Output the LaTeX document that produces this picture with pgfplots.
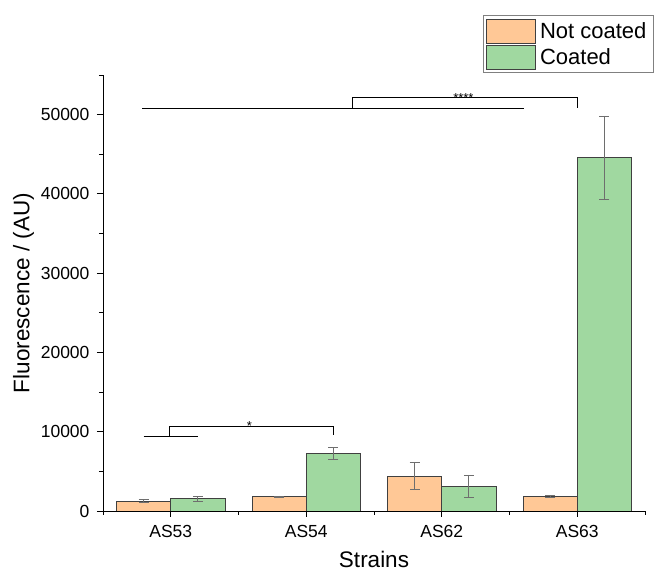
\documentclass[border=0pt]{standalone}
\usepackage{pgfplots}
\pgfplotsset{compat=1.18}
\usepackage{fontspec}
\setmainfont{Liberation Sans}
\definecolor{nc}{RGB}{255,200,150}
\definecolor{co}{RGB}{160,216,160}
\definecolor{eb}{RGB}{110,110,110}
\begin{document}
\begin{tikzpicture}
\begin{axis}[
  name=ax,
  scale only axis,
  width=542pt, height=436pt,
  xmin=-0.5, xmax=3.5,
  ymin=0, ymax=55000,
  axis x line*=bottom, axis y line*=left,
  axis line style={black, line width=0.9pt},
  ybar=0pt, bar width=0.4,
  xtick={0,1,2,3},
  xticklabels={AS53,AS54,AS62,AS63},
  minor xtick={-0.5,0.5,1.5,2.5,3.5},
  ytick={0,10000,20000,30000,40000,50000},
  minor ytick={5000,15000,25000,35000,45000,55000},
  scaled y ticks=false,
  yticklabel style={/pgf/number format/fixed, /pgf/number format/1000 sep={}, xshift=-4pt},
  /pgf/number format/assume math mode=true,
  tick align=outside,
  major tick length=6pt, minor tick length=4pt,
  tick style={black, line width=0.9pt},
  ticklabel style={font=\fontsize{17.5}{20}\selectfont},
  xticklabel style={yshift=-5pt},
  xlabel={Strains}, ylabel={Fluorescence / (AU)},
  label style={font=\fontsize{22.5}{26}\selectfont},
  xlabel style={yshift=-6pt},
  ylabel style={yshift=0pt},
  legend style={at={(axis description cs:0.701,1.137)}, anchor=north west,
    draw=gray, line width=0.6pt, font=\fontsize{22}{24}\selectfont,
    inner sep=3pt, row sep=1.5pt, nodes={inner ysep=1pt, inner xsep=4pt}, cells={anchor=west}},
  legend image code/.code={\draw[#1] (0pt,-12pt) rectangle (49pt,12pt);},
  error bars/y dir=both, error bars/y explicit,
  error bars/error bar style={eb, line width=0.8pt},
  error bars/error mark options={rotate=90, mark size=5pt, eb, line width=0.8pt},
]
\addplot[fill=nc, draw=black!75, line width=0.8pt] coordinates {
  (0,1250) +- (0,150)
  (1,1800) +- (0,100)
  (2,4400) +- (0,1680)
  (3,1850) +- (0,150)
};
\addplot[fill=co, draw=black!75, line width=0.8pt] coordinates {
  (0,1550) +- (0,300)
  (1,7300) +- (0,730)
  (2,3150) +- (0,1400)
  (3,44550) +- (0,5280)
};
\legend{Not coated\hspace{15pt}, Coated}
\draw[black, line width=0.9pt] (axis cs:-0.2,9350) -- (axis cs:0.2,9350);
\draw[black, line width=0.7pt] (axis cs:-0.01,9350) -- (axis cs:-0.01,10730) -- (axis cs:1.2,10730) -- (axis cs:1.2,9560);
\node[anchor=base, inner sep=0pt, font=\fontsize{13}{14}\selectfont, yshift=-5pt] at (axis cs:0.58,10730) {*};
\draw[black, line width=0.9pt] (axis cs:-0.21,50730) -- (axis cs:2.61,50730);
\draw[black, line width=0.7pt] (axis cs:1.343,50730) -- (axis cs:1.343,52200) -- (axis cs:3.0,52200) -- (axis cs:3.0,50850);
\node[anchor=base, inner sep=0pt, font=\fontsize{13}{14}\selectfont, yshift=-5pt] at (axis cs:2.16,52200) {****};
\end{axis}
\pgfresetboundingbox
\path[use as bounding box] (ax.south west) ++(-103pt,-66pt) rectangle ++(655pt,577pt);
\end{tikzpicture}
\end{document}
